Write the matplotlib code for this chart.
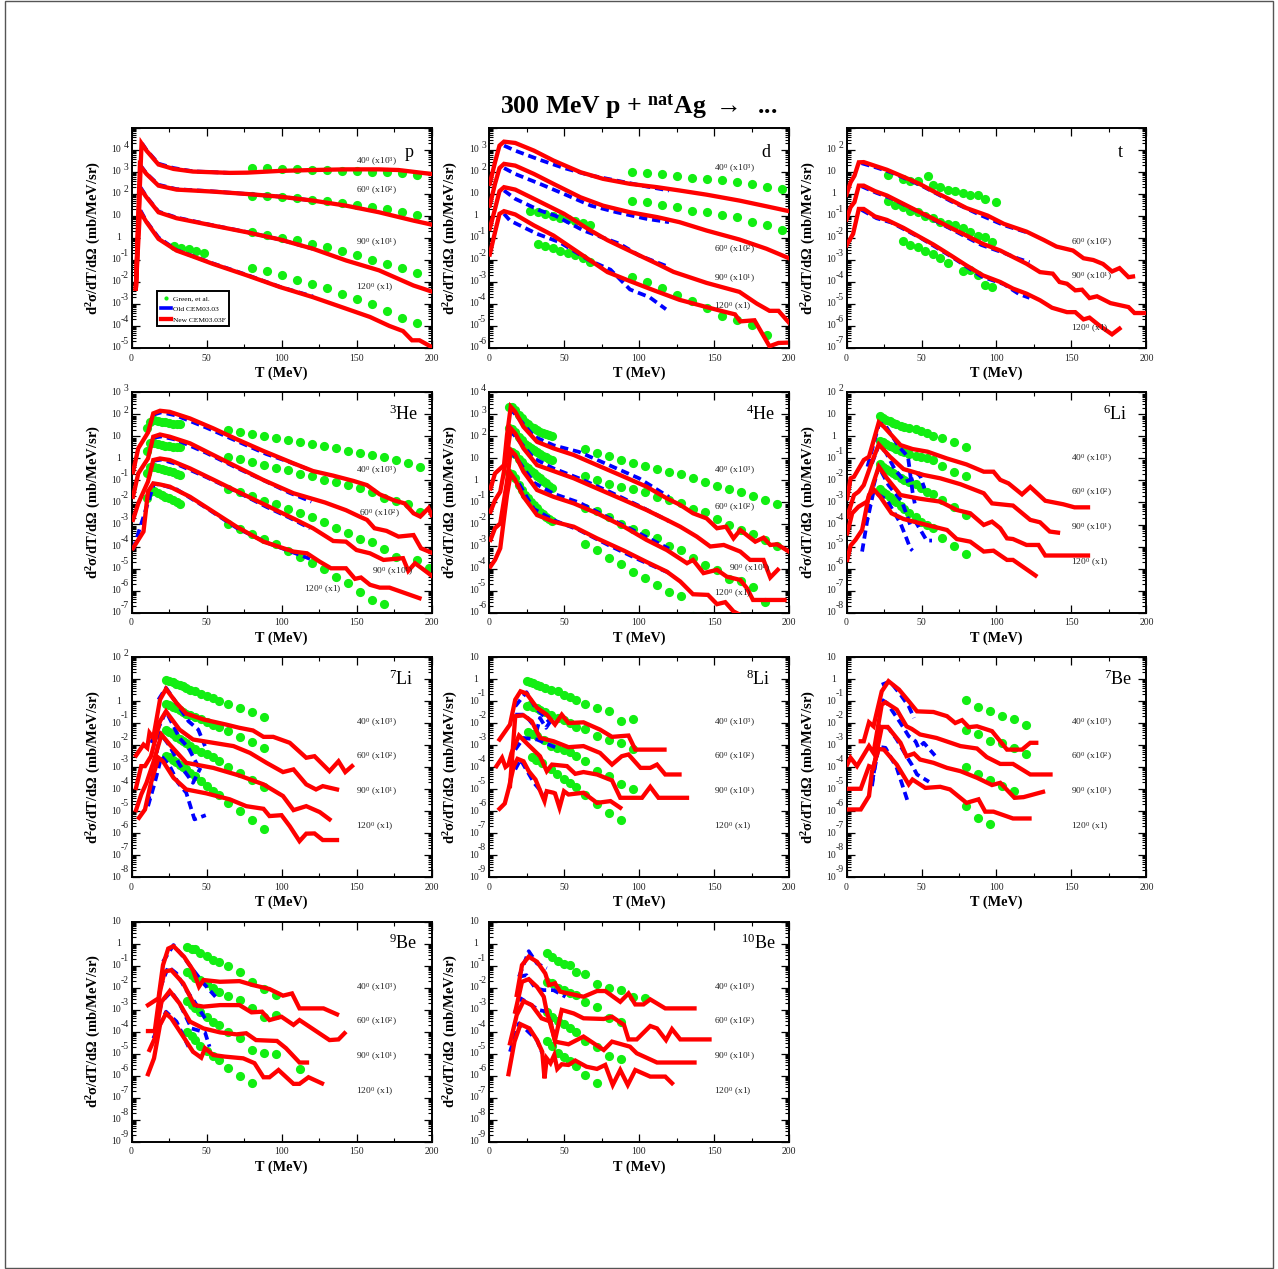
import numpy as np
import matplotlib
matplotlib.use("Agg")
import matplotlib.pyplot as plt
from matplotlib.lines import Line2D
from matplotlib.patches import Rectangle
from matplotlib.ticker import LogLocator, NullFormatter

plt.rcParams['font.family'] = ['Liberation Serif', 'DejaVu Serif']
plt.rcParams['mathtext.fontset'] = 'custom'
plt.rcParams['mathtext.rm'] = 'Liberation Serif'
plt.rcParams['mathtext.it'] = 'Liberation Serif:italic'
plt.rcParams['mathtext.bf'] = 'Liberation Serif:bold'

# all curves: (T in MeV, log10 of the cross section), order 40, 60, 90, 120 deg

# --- p
p_new = [
    ([2.9, 6.7, 10, 18, 28, 41, 65.5, 77, 99, 121, 143, 165, 178, 200],
     [-2.3, 4.3, 3.97, 3.34, 3.14, 3.02, 2.96, 2.97, 3.05, 3.09, 3.12, 3.12, 3.09, 2.91]),
    ([2.9, 5.6, 10, 18, 30, 54, 77, 99, 121, 143, 165, 188, 200],
     [-2.3, 3.29, 2.91, 2.38, 2.2, 2.11, 2.0, 1.88, 1.7, 1.47, 1.17, 0.79, 0.61]),
    ([2.9, 5.6, 10, 18, 30, 54, 77, 99, 121, 143, 165, 188, 200],
     [-2.3, 2.28, 1.85, 1.17, 0.9, 0.57, 0.26, -0.07, -0.49, -1.02, -1.47, -2.16, -2.43]),
    ([2.9, 5.6, 10, 18, 30, 41, 54, 77, 99, 121, 143, 159, 172, 181, 187, 192, 200],
     [-2.3, 1.22, 0.72, -0.04, -0.57, -0.84, -1.17, -1.7, -2.23, -2.69, -3.21, -3.59, -4.0, -4.23, -4.65, -4.65, -4.95]),
]
p_old = [
    ([7, 10, 18, 28, 41, 65], [4.3, 4.0, 3.38, 3.18, 3.03, 2.96]),
    ([6, 10, 18, 30, 54, 77, 99, 121], [3.3, 2.93, 2.42, 2.22, 2.12, 2.0, 1.88, 1.7]),
    ([6, 10, 18, 30, 54, 77, 99, 121], [2.3, 1.88, 1.2, 0.93, 0.58, 0.27, -0.07, -0.49]),
    ([6, 10, 18, 30, 54, 77, 99, 121], [1.25, 0.75, 0.02, -0.55, -1.15, -1.68, -2.22, -2.66]),
]
p_T = [80, 90, 100, 110, 120, 130, 140, 150, 160, 170, 180, 190]
p_data = [
    (p_T, [3.17, 3.17, 3.15, 3.14, 3.11, 3.09, 3.06, 3.06, 3.02, 2.99, 2.94, 2.88]),
    (p_T, [1.93, 1.9, 1.85, 1.81, 1.75, 1.7, 1.61, 1.52, 1.43, 1.31, 1.19, 1.04]),
    (p_T, [0.26, 0.14, 0.02, -0.11, -0.26, -0.42, -0.58, -0.76, -0.98, -1.17, -1.35, -1.57]),
    (p_T, [-1.35, -1.52, -1.69, -1.9, -2.08, -2.29, -2.55, -2.78, -3.02, -3.31, -3.65, -3.87]),
    ([28, 33, 38, 43, 48], [-0.37, -0.45, -0.49, -0.57, -0.67]),
]

# --- d
d_new = [
    ([0.5, 4, 7, 10, 17.5, 30, 43, 61, 76, 94, 112, 127, 145, 167, 185, 200],
     [1.46, 2.44, 3.2, 3.38, 3.32, 2.97, 2.52, 1.99, 1.69, 1.46, 1.31, 1.16, 0.97, 0.7, 0.44, 0.22]),
    ([0.5, 4, 7, 10, 17.5, 30, 43, 61, 76, 94, 112, 127, 145, 167, 185, 200],
     [0.47, 1.46, 2.18, 2.37, 2.29, 1.91, 1.46, 0.85, 0.47, 0.17, -0.05, -0.28, -0.66, -1.07, -1.49, -1.92]),
    ([0.5, 4, 7, 10, 17.5, 30, 50, 67.5, 79, 94, 112, 123, 145, 167, 178.5, 187, 193, 200],
     [-0.58, 0.32, 1.13, 1.31, 1.2, 0.78, 0.1, -0.65, -1.1, -1.59, -2.17, -2.54, -3.04, -3.45, -3.98, -4.31, -4.31, -4.85]),
    ([0.5, 4, 7, 10, 17.5, 30, 43, 56, 67.5, 79, 94, 110, 127, 145, 158, 164, 167.5, 177, 187, 193, 198],
     [-1.75, -0.74, 0.1, 0.22, 0.07, -0.43, -0.89, -1.49, -2.02, -2.55, -2.96, -3.38, -3.81, -4.14, -4.37, -4.47, -4.79, -4.74, -5.92, -5.77, -5.76]),
]
d_old = [
    ([10, 17.5, 34, 50, 68, 85, 105, 120], [3.2, 2.97, 2.55, 2.18, 1.84, 1.61, 1.34, 1.16]),
    ([10, 17.5, 34, 50, 68, 85, 105, 120], [2.18, 1.91, 1.46, 1.0, 0.47, 0.17, -0.13, -0.28]),
    ([10, 17.5, 34, 44, 63, 87, 100, 120], [1.16, 0.78, 0.25, 0.02, -0.66, -1.26, -1.79, -2.32]),
    ([10, 14, 32, 47, 67, 81, 94, 107, 118], [0.1, -0.21, -0.81, -1.19, -2.02, -2.44, -3.34, -3.69, -4.24]),
]
d_T = [95, 105, 115, 125, 135, 145, 155, 165, 175, 185, 195]
d_data = [
    (d_T, [1.99, 1.96, 1.91, 1.81, 1.75, 1.7, 1.63, 1.55, 1.46, 1.34, 1.25]),
    (d_T, [0.7, 0.64, 0.51, 0.4, 0.25, 0.17, 0.05, -0.05, -0.27, -0.42, -0.63]),
    ([27.5, 32.5, 37.5, 42.5, 47.5, 52.5, 57.5, 62.5, 67.5],
     [0.25, 0.17, 0.1, 0.01, -0.07, -0.13, -0.24, -0.3, -0.39]),
    ([32.5, 37.5, 42.5, 47.5, 52.5, 57.5, 62.5, 67.5],
     [-1.26, -1.37, -1.45, -1.57, -1.69, -1.79, -1.91, -2.07]),
    ([95, 105, 115, 125, 135, 145, 155, 165, 175, 185],
     [-2.75, -3.0, -3.26, -3.59, -3.87, -4.17, -4.55, -4.74, -4.97, -5.39]),
]

# --- t (no 40 deg label in this one)
t_new = [
    ([0, 2.7, 5.3, 8.2, 11.5, 19, 27, 38, 49, 58, 69.5, 80, 94, 105, 120, 131.5, 140, 151, 158, 164.5, 171, 177, 182, 188, 191],
     [-0.03, 0.53, 0.83, 1.44, 1.45, 1.28, 1.1, 0.78, 0.45, 0.12, -0.27, -0.64, -0.98, -1.36, -1.71, -2.09, -2.39, -2.57, -2.92, -3.0, -3.18, -3.52, -3.37, -3.78, -3.75]),
    ([0, 2.7, 5.3, 8.2, 11.5, 19, 27, 38, 49, 58, 69.5, 80, 91, 102.5, 120, 129, 137.5, 142, 147, 152.5, 157, 162, 167, 176, 188, 192, 199],
     [-1.16, -0.6, -0.37, 0.38, 0.38, 0.13, -0.07, -0.45, -0.83, -1.13, -1.54, -1.89, -2.27, -2.57, -3.17, -3.55, -3.62, -4.0, -4.08, -4.38, -4.35, -4.73, -4.65, -4.96, -5.14, -5.41, -5.41]),
    ([0, 4.4, 8.2, 11.5, 19, 27, 38, 49, 58, 69.5, 80, 91, 102.5, 111, 120, 129, 137, 147, 152.5, 158, 162, 169, 177, 182],
     [-2.34, -1.81, -0.68, -0.68, -1.02, -1.18, -1.54, -1.96, -2.3, -2.79, -3.25, -3.7, -4.0, -4.3, -4.53, -4.83, -5.17, -5.37, -5.37, -5.7, -5.62, -6.0, -6.38, -6.12]),
]
t_old = [
    ([10, 20, 30, 50, 70, 90, 105, 122], [1.4, 1.2, 0.98, 0.38, -0.34, -0.98, -1.42, -1.78]),
    ([10, 20, 30, 50, 70, 90, 105, 115, 122], [0.35, 0.05, -0.2, -0.88, -1.6, -2.32, -2.68, -2.95, -3.1]),
    ([10, 20, 30, 50, 70, 90, 105, 115, 122], [-0.72, -1.1, -1.3, -2.02, -2.85, -3.75, -4.1, -4.55, -4.72]),
]
t_data = [
    ([27.5, 37.5, 42.5, 47.5, 54, 57.5, 62.5, 67.5, 72.5, 77.5, 82.5, 87.5, 92.5, 99.5],
     [0.88, 0.69, 0.61, 0.58, 0.84, 0.41, 0.34, 0.2, 0.14, 0.03, -0.06, -0.03, -0.24, -0.36]),
    ([27.5, 32.5, 37.5, 42.5, 47.5, 52.5, 57.5, 62.5, 67.5, 72.5, 77.5, 82.5, 87.5, 92.5, 97],
     [-0.34, -0.48, -0.6, -0.75, -0.83, -0.98, -1.08, -1.25, -1.36, -1.43, -1.54, -1.74, -1.89, -1.96, -2.17]),
    ([37.5, 42.5, 47.5, 52.5, 57.5, 62.5, 67.5, 77.5, 82.5, 87.5, 92.5, 97],
     [-2.14, -2.31, -2.43, -2.57, -2.75, -2.9, -3.13, -3.51, -3.46, -3.67, -4.13, -4.22]),
]

# --- 3He
he3_new = [
    ([1, 4.5, 11, 14.5, 19, 25.5, 39, 54.5, 70, 88, 108, 121, 134.5, 148, 157, 165.5, 174.5, 182, 188, 192.5, 198, 200],
     [-0.63, 0.46, 1.18, 2.05, 2.17, 2.12, 1.82, 1.37, 0.88, 0.34, -0.22, -0.57, -0.78, -1.02, -1.21, -1.63, -1.89, -2.04, -2.49, -2.64, -2.26, -2.57]),
    ([1, 4.5, 11, 14.5, 19, 25.5, 39, 54.5, 70, 88, 108, 129, 143, 152, 157, 162, 170, 178, 188, 193, 200],
     [-1.74, -0.68, 0, 0.99, 1.09, 0.99, 0.69, 0.16, -0.37, -0.98, -1.58, -2.0, -2.35, -2.64, -2.79, -3.17, -3.29, -3.55, -3.48, -4.08, -4.28]),
    ([1, 4.5, 11, 14.5, 19, 25.5, 39, 54.5, 70, 88, 108, 121, 134.5, 143, 150, 159, 168, 181, 184.5, 189, 200],
     [-2.79, -2.04, -1.05, -0.07, 0, -0.07, -0.45, -0.96, -1.48, -2.07, -2.73, -3.17, -3.75, -3.78, -4.16, -4.31, -4.61, -4.53, -5.11, -4.76, -5.32]),
    ([1, 4.5, 8, 11, 14.5, 19, 25.5, 39, 54.5, 70, 88, 108, 117, 125.5, 133, 143, 149, 153, 159, 165.5, 172, 192],
     [-4.08, -3.7, -3.32, -1.51, -1.13, -1.18, -1.28, -1.74, -2.42, -3.1, -3.78, -4.23, -4.31, -4.69, -4.99, -4.99, -5.47, -5.41, -5.74, -5.87, -5.87, -6.35]),
]
he3_old = [
    ([15, 20, 30, 50, 70, 90, 105, 120], [2.0, 2.1, 1.95, 1.4, 0.8, 0.2, -0.15, -0.55]),
    ([15, 20, 30, 50, 70, 90, 105, 120], [0.95, 1.0, 0.85, 0.25, -0.42, -1.05, -1.55, -1.96]),
    ([15, 20, 30, 50, 70, 90, 105, 119], [-0.1, -0.05, -0.25, -0.85, -1.5, -2.2, -2.68, -3.17]),
    ([1, 15, 20, 30, 50, 70, 90, 105, 119], [-4.15, -1.15, -1.2, -1.4, -2.25, -3.15, -3.82, -4.2, -4.56]),
]
he3_lowT = [10, 12.5, 15, 17.5, 20, 22.5, 25, 27.5, 30, 32.5]
he3_T = [64, 72, 80, 88, 96, 104, 112, 120, 128, 136, 144, 152, 160, 168, 176, 184, 192]
he3_data = [
    (he3_lowT, [1.37, 1.67, 1.74, 1.71, 1.67, 1.64, 1.62, 1.59, 1.58, 1.56]),
    (he3_lowT, [0.34, 0.69, 0.69, 0.64, 0.61, 0.58, 0.56, 0.53, 0.52, 0.5]),
    (he3_lowT, [-0.65, -0.37, -0.37, -0.42, -0.48, -0.52, -0.57, -0.63, -0.69, -0.75]),
    (he3_lowT, [-1.81, -1.51, -1.48, -1.58, -1.66, -1.74, -1.81, -1.89, -1.96, -2.05]),
    (he3_T, [1.29, 1.21, 1.11, 1.03, 0.91, 0.84, 0.73, 0.64, 0.55, 0.46, 0.35, 0.25, 0.17, 0.05, -0.07, -0.22, -0.39]),
    (he3_T, [0.08, -0.04, -0.16, -0.3, -0.42, -0.54, -0.69, -0.81, -0.96, -1.05, -1.21, -1.36, -1.54, -1.78, -1.93, -2.08, -2.42]),
    ([64, 72, 80, 88, 96, 104, 112, 120, 128, 136, 144, 152, 160, 168, 176, 190, 198],
     [-1.39, -1.54, -1.69, -1.92, -2.08, -2.3, -2.46, -2.64, -2.87, -3.14, -3.4, -3.66, -3.81, -4.11, -4.46, -4.61, -4.96]),
    ([64, 72, 80, 88, 96, 104, 112, 120, 128, 136, 144, 152, 160, 168],
     [-2.98, -3.2, -3.43, -3.66, -3.9, -4.19, -4.46, -4.76, -5.03, -5.37, -5.67, -6.08, -6.43, -6.61]),
]

# --- 4He
he4_new = [
    ([1, 4, 10, 12, 14.5, 17.5, 23, 32, 43, 56.5, 72, 90, 105, 118.5, 127.5, 136, 145, 152, 158, 163, 167.5, 177.5, 183, 187.5, 192, 200],
     [-0.36, 0.32, 0.7, 2.06, 3.35, 3.12, 2.44, 1.76, 1.46, 1.16, 0.7, 0.17, -0.28, -0.81, -1.11, -1.49, -1.72, -2.17, -2.1, -2.63, -2.25, -2.78, -2.6, -2.93, -2.9, -3.23]),
    ([1, 4, 7.5, 12, 14.5, 17.5, 23, 32, 43, 56.5, 72, 90, 105, 118.5, 127.5, 138.5, 147.5, 156.5, 167.5, 174, 183, 187.5, 192.5],
     [-1.42, -0.89, -0.51, 1.16, 2.37, 2.14, 1.46, 0.7, 0.43, 0.1, -0.36, -0.89, -1.34, -1.79, -2.1, -2.55, -3.0, -2.93, -3.23, -3.61, -3.61, -4.41, -4.06]),
    ([1, 4, 7.5, 12, 14.5, 17.5, 23, 32, 43, 56.5, 72, 90, 105, 118.5, 132, 136, 143, 152, 158.5, 167.5, 172, 176, 197],
     [-2.7, -2.17, -1.95, -0.05, 1.38, 1.16, 0.4, -0.43, -0.74, -1.04, -1.49, -2.1, -2.7, -3.16, -3.76, -3.61, -4.21, -4.06, -4.37, -4.52, -4.9, -5.43, -5.43]),
    ([1, 4, 7.5, 10, 12, 14.5, 17.5, 23, 32, 43, 56.5, 72, 90, 105, 118.5, 127.5, 136, 146, 152, 157.5, 163, 170],
     [-3.91, -3.61, -3.08, -1.72, -0.66, 0.32, 0.02, -0.74, -1.57, -1.87, -2.1, -2.63, -3.19, -3.7, -4.14, -4.59, -5.17, -5.2, -5.62, -5.53, -5.95, -6.2]),
]
he4_old = [
    ([14, 20, 30, 43, 60, 80, 100, 120], [3.3, 2.8, 2.0, 1.6, 1.3, 0.7, 0.1, -0.75]),
    ([14, 20, 30, 43, 60, 80, 100, 120], [2.3, 1.8, 1.0, 0.55, 0.1, -0.5, -1.15, -1.85]),
    ([14, 20, 30, 43, 60, 80, 100, 120], [1.35, 0.85, -0.1, -0.6, -1.0, -1.7, -2.4, -3.1]),
    ([14, 20, 30, 43, 60, 80, 100, 120], [0.3, -0.15, -1.3, -1.8, -2.25, -2.95, -3.6, -4.2]),
]
he4_lowT = [13, 15, 17, 20, 22, 24, 26, 28, 30, 32, 34, 36, 38, 40, 42]
he4_T = [64, 72, 80, 88, 96, 104, 112, 120, 128, 136, 144, 152, 160, 168, 176, 184, 192]
he4_data = [
    (he4_lowT, [3.35, 3.32, 3.2, 2.97, 2.82, 2.67, 2.55, 2.44, 2.37, 2.29, 2.21, 2.17, 2.11, 2.06, 2.03]),
    (he4_lowT, [2.37, 2.32, 2.21, 1.99, 1.84, 1.68, 1.56, 1.46, 1.38, 1.28, 1.19, 1.13, 1.05, 0.97, 0.91]),
    (he4_lowT, [1.35, 1.31, 1.19, 0.97, 0.82, 0.67, 0.55, 0.44, 0.34, 0.22, 0.1, -0.01, -0.13, -0.24, -0.36]),
    (he4_lowT, [0.32, 0.28, 0.1, -0.21, -0.43, -0.66, -0.81, -0.96, -1.11, -1.26, -1.42, -1.54, -1.64, -1.75, -1.84]),
    (he4_T, [1.43, 1.26, 1.13, 0.93, 0.81, 0.66, 0.51, 0.37, 0.28, 0.13, -0.08, -0.24, -0.39, -0.52, -0.69, -0.87, -1.07]),
    (he4_T, [0.22, 0.02, -0.16, -0.28, -0.39, -0.51, -0.73, -0.89, -1.04, -1.3, -1.45, -1.76, -2.02, -2.25, -2.45, -2.7, -2.96]),
    (he4_T[:16], [-1.23, -1.39, -1.64, -1.99, -2.2, -2.4, -2.63, -3.0, -3.16, -3.53, -3.84, -4.06, -4.47, -4.59, -4.82, -5.53]),
    (he4_T[:11], [-2.88, -3.16, -3.5, -3.79, -4.14, -4.41, -4.74, -5.09, -5.27, -6.15, -6.15]),
]

# --- 6Li
li6_new = [
    ([0.5, 2.7, 5, 11.5, 15, 21.5, 25, 36, 44, 54, 67, 80, 91.5, 98, 102.5, 108, 117, 122.5, 132.5, 144.5, 152, 161],
     [-2.81, -1.9, -1.83, -1.07, -0.92, 0.64, 0.44, -0.39, -0.57, -0.69, -1.0, -1.27, -1.6, -1.6, -1.97, -2.13, -2.63, -2.29, -2.92, -3.08, -3.22, -3.22]),
    ([0.5, 5, 8, 11.5, 17, 21.5, 29, 38, 51.5, 62.5, 76, 91.5, 97, 111, 122.5, 129, 135.5, 141],
     [-3.64, -2.66, -2.51, -2.21, -1.15, -0.36, -0.92, -1.48, -1.75, -1.9, -2.17, -2.58, -3.04, -3.14, -3.79, -3.9, -4.32, -4.37]),
    ([0.5, 3.8, 8, 13.7, 16, 21.5, 27, 36, 49, 62.5, 73.5, 82.5, 91.5, 97, 102.5, 107, 111, 120, 128, 132.5, 161],
     [-4.4, -3.49, -3.19, -2.96, -2.51, -1.37, -1.9, -2.66, -2.83, -2.96, -3.34, -3.49, -4.02, -3.87, -4.17, -4.63, -4.66, -4.93, -4.93, -5.41, -5.41]),
    ([0.5, 2.7, 6, 10.4, 15, 18.5, 22.5, 30, 38, 53.5, 67, 73.5, 82.5, 91.5, 98, 107, 111, 126],
     [-5.61, -4.96, -4.7, -4.25, -2.66, -2.43, -2.74, -3.49, -3.75, -4.02, -4.25, -4.66, -4.78, -5.23, -5.19, -5.61, -5.61, -6.32]),
]
li6_old = [
    ([14, 21.5, 25, 35, 41, 44, 45.5], [-1.37, 0.52, 0.6, -0.47, -0.92, -2.51, -3.04]),
    ([17, 21.5, 26, 32.5, 39, 46, 48.5, 52], [-1.22, -0.39, -0.69, -1.53, -2.05, -1.9, -1.68, -2.36]),
    ([12.6, 17, 21.5, 28, 37, 42.5, 46, 53.5, 57], [-4.02, -2.51, -1.37, -2.21, -2.96, -4.02, -3.87, -4.73, -4.73]),
    ([10.4, 13.7, 18, 27, 31.5, 36, 40, 42.5, 44], [-5.23, -3.87, -2.51, -2.89, -3.42, -3.95, -4.63, -5.08, -5.19]),
]
li6_T = [22, 24, 26.5, 29, 31, 33, 36, 38.5, 41.5, 46, 49.5, 53.5, 57.5, 63.5, 71.5, 79.5]
li6_data = [
    (li6_T, [0.91, 0.85, 0.77, 0.7, 0.62, 0.55, 0.49, 0.44, 0.4, 0.34, 0.25, 0.14, 0.03, -0.06, -0.27, -0.47]),
    (li6_T, [-0.19, -0.27, -0.35, -0.42, -0.5, -0.57, -0.65, -0.72, -0.8, -0.87, -0.93, -1.0, -1.07, -1.34, -1.6, -1.78]),
    (li6_T, [-1.27, -1.37, -1.48, -1.57, -1.65, -1.75, -1.87, -1.98, -2.08, -2.18, -2.36, -2.51, -2.63, -2.89, -3.19, -3.57]),
    (li6_T, [-2.39, -2.51, -2.63, -2.77, -2.89, -2.99, -3.14, -3.3, -3.49, -3.67, -3.87, -4.02, -4.17, -4.6, -4.99, -5.34]),
]

# --- 7Li
li7_new = [
    ([3, 8, 10.5, 12, 14.5, 19, 23, 30, 36.5, 48, 63, 72, 81, 88, 94.5, 105.5, 116.5, 122, 132, 138, 142.5, 147],
     [-2.48, -1.98, -2.13, -1.45, -1.68, 0.06, 0.55, -0.09, -0.57, -0.84, -1.07, -1.22, -1.34, -1.63, -1.63, -1.9, -2.58, -2.51, -3.19, -2.74, -3.23, -2.96]),
    ([3, 6.5, 9, 13, 19, 23, 32, 41, 54.5, 68, 79, 90, 101, 108, 116.5, 123, 127.5, 137],
     [-3.95, -2.96, -2.96, -2.51, -0.92, -0.47, -1.3, -1.75, -1.9, -2.05, -2.36, -2.81, -3.23, -3.11, -3.79, -4.02, -3.87, -4.02]),
    ([3, 6.5, 10, 14.5, 20, 25.5, 36.5, 54.5, 72, 88, 101, 108, 116.5, 125.5, 132],
     [-4.96, -4.25, -3.72, -2.81, -1.53, -1.98, -2.81, -3.04, -3.39, -3.79, -4.32, -4.96, -4.78, -5.05, -5.38]),
    ([5, 9, 13, 18, 21, 28, 36.5, 50, 65.5, 76.5, 88, 92, 100, 105.5, 112, 116.5, 122, 127.5, 137],
     [-5.31, -4.93, -3.72, -2.58, -2.74, -3.49, -4.02, -4.2, -4.47, -4.78, -4.9, -5.23, -5.19, -5.69, -6.37, -6.03, -6.02, -6.32, -6.32]),
]
li7_old = [
    ([18, 23, 30, 38, 44.5, 49], [0.06, 0.6, -0.09, -0.92, -1.3, -2.05]),
    ([13, 19, 23, 32, 38, 42, 45.5], [-1.9, -1.07, -0.47, -1.68, -2.13, -2.66, -3.11]),
    ([11, 19, 25.5, 32, 41, 46], [-4.7, -1.45, -2.05, -2.89, -3.72, -3.04]),
    ([11, 15.5, 20, 25.5, 31, 36.5, 42, 49.5], [-4.78, -3.72, -2.51, -2.96, -3.72, -4.17, -5.38, -5.19]),
]
li7_T = [23, 25, 27.5, 29.5, 32, 34, 36, 39, 42, 46, 50, 54, 58, 64, 72, 80, 88]
li7_data = [
    (li7_T, [0.94, 0.9, 0.85, 0.79, 0.73, 0.67, 0.59, 0.52, 0.44, 0.34, 0.25, 0.14, -0.01, -0.13, -0.34, -0.51, -0.74]),
    (li7_T, [-0.12, -0.19, -0.27, -0.34, -0.42, -0.5, -0.57, -0.65, -0.74, -0.84, -0.95, -1.07, -1.18, -1.37, -1.63, -1.86, -2.13]),
    (li7_T, [-1.34, -1.42, -1.52, -1.63, -1.72, -1.83, -1.93, -2.05, -2.17, -2.31, -2.43, -2.55, -2.73, -2.99, -3.26, -3.57, -3.92]),
    (li7_T, [-2.48, -2.55, -2.66, -2.77, -2.89, -2.99, -3.11, -3.26, -3.42, -3.64, -3.87, -4.1, -4.29, -4.63, -5.0, -5.43, -5.84]),
]

# --- 8Li
li8_new = [
    ([7, 14, 17.5, 21, 25, 32, 38.5, 44, 48.5, 53, 63, 74, 82, 93, 97.5, 117],
     [-2.75, -2.07, -0.94, -0.56, -0.66, -1.31, -1.62, -2.07, -1.62, -2.0, -1.97, -2.3, -2.63, -2.57, -3.21, -3.21]),
    ([14, 17.5, 23, 28.5, 34, 43, 53, 63, 74, 82, 88.5, 93, 101, 107.5, 112, 117.5, 127],
     [-4.87, -1.69, -1.65, -1.92, -2.68, -2.83, -3.1, -3.05, -3.36, -3.89, -3.51, -3.43, -4.04, -4.04, -3.89, -4.34, -4.34]),
    ([5, 8.7, 11, 13, 15, 20, 26, 34, 38.5, 42, 52, 57.5, 63, 72, 82, 87.5, 102, 107.5, 113, 132],
     [-3.96, -3.58, -4.0, -3.89, -3.36, -2.57, -2.98, -3.51, -4.19, -3.89, -3.96, -4.31, -4.23, -4.34, -4.61, -5.4, -5.4, -4.9, -5.4, -5.4]),
    ([7, 10.5, 13, 16.5, 19, 23, 26.5, 31, 37, 38.5, 43, 44, 47, 50, 53, 63, 72, 81, 87.5],
     [-5.9, -5.66, -5.02, -3.96, -3.63, -3.74, -4.19, -4.57, -5.55, -5.1, -5.17, -5.2, -5.85, -5.1, -5.25, -5.17, -5.63, -5.55, -5.85]),
]
li8_old = [
    ([17.5, 25, 31, 36.5, 41], [-1.24, -0.6, -1.31, -1.69, -2.0]),
    ([17.5, 24, 32, 34, 38, 41], [-1.62, -1.62, -2.3, -1.77, -2.22, -1.92]),
    ([17.5, 23, 32, 45], [-3.21, -2.68, -2.75, -3.13]),
    ([17.5, 21, 25.5, 30, 35.5, 38.5], [-4.11, -3.66, -4.19, -4.72, -5.17, -5.25]),
]
li8_T = [25, 27, 29, 32, 34, 37, 41, 46, 50, 54, 58, 64, 72, 80, 88, 96]
li8_data = [
    (li8_T, [-0.1, -0.13, -0.18, -0.26, -0.33, -0.41, -0.48, -0.56, -0.71, -0.83, -0.94, -1.12, -1.31, -1.44, -1.89, -1.81]),
    (li8_T, [-1.24, -1.19, -1.27, -1.34, -1.42, -1.5, -1.62, -1.77, -1.87, -2.0, -2.18, -2.27, -2.57, -2.78, -2.9, -3.16]),
    ([26, 28.5, 32, 36.5, 41, 45, 50, 54, 58, 64, 72, 80, 88, 96],
     [-2.42, -2.48, -2.6, -2.78, -3.05, -3.13, -3.21, -3.33, -3.48, -3.74, -4.16, -4.42, -4.79, -4.99]),
    ([28.5, 31.5, 35.5, 41, 45, 50, 54, 58, 64, 72, 80, 88],
     [-3.54, -3.66, -3.84, -4.11, -4.3, -4.54, -4.72, -4.9, -5.25, -5.7, -6.08, -6.41]),
]

# --- 7Be
be7_new = [
    ([9.5, 11.5, 15, 18, 23.5, 28, 35, 41.5, 47, 58, 67, 72.5, 77, 81.5, 87, 97, 107, 117, 122.5, 126.5],
     [-2.83, -2.83, -1.97, -2.15, -0.56, -0.1, -0.48, -1.01, -1.47, -1.5, -1.69, -2.0, -1.87, -2.19, -2.15, -2.37, -3.21, -3.21, -2.9, -2.9]),
    ([0.5, 2.7, 7, 15, 18, 23.5, 26, 33.5, 40, 43.5, 49, 60, 76, 87, 93.5, 102.5, 111, 122.5, 136],
     [-3.89, -3.58, -3.96, -3.05, -3.36, -1.16, -1.06, -1.39, -2.15, -2.27, -2.52, -2.68, -3.05, -3.16, -3.55, -3.86, -3.86, -4.34, -4.34]),
    ([0.5, 9.5, 15, 18, 23.5, 27.5, 36, 40, 45, 49, 58, 67, 76, 87, 97, 102.5, 112, 118, 131],
     [-4.99, -4.99, -3.96, -4.04, -2.18, -2.18, -2.9, -3.51, -3.39, -3.66, -3.81, -4.04, -4.19, -4.49, -4.82, -4.72, -5.4, -5.37, -5.13]),
    ([0.5, 9.5, 15, 17, 21.5, 25, 33.5, 41.5, 44, 52.5, 62.5, 69, 80, 88, 92.5, 98, 111, 122],
     [-5.93, -5.93, -5.32, -4.19, -3.18, -3.21, -3.89, -4.79, -4.57, -4.95, -4.9, -5.02, -5.63, -5.47, -6.03, -6.03, -6.34, -6.34]),
]
be7_old = [
    ([23.5, 29, 36, 41.5, 45], [-0.26, -0.11, -0.71, -1.24, -1.77]),
    ([23.5, 27, 36, 41.5, 46, 48, 51.5, 59], [-0.94, -1.09, -2.0, -2.6, -2.83, -3.13, -2.9, -3.48]),
    ([17, 22.5, 28, 33.5, 40, 43.5, 47, 55], [-4.87, -2.15, -2.22, -2.75, -3.51, -3.89, -4.34, -4.67]),
    ([17, 21.5, 26, 33.5, 40.5], [-4.72, -3.08, -3.13, -4.04, -5.5]),
]
be7_T = [80, 88, 96, 104, 112, 120]
be7_data = [
    (be7_T, [-0.97, -1.27, -1.47, -1.66, -1.81, -2.09]),
    (be7_T, [-2.3, -2.49, -2.81, -2.9, -3.13, -3.43]),
    (be7_T[:5], [-3.99, -4.3, -4.6, -4.87, -5.08]),
    (be7_T[:3], [-5.79, -6.31, -6.61]),
]

# --- 9Be
be9_new = [
    ([11, 18, 21, 24.5, 28, 35, 41, 45, 48, 59, 72, 81, 92, 101, 107, 112, 128, 137],
     [-2.8, -2.49, -0.98, -0.23, -0.12, -0.6, -1.21, -1.96, -1.66, -1.74, -1.71, -1.89, -2.07, -2.37, -2.27, -2.95, -2.95, -3.22]),
    ([11, 15.5, 19, 22, 26.5, 34.5, 42, 48, 59, 72, 80, 87, 92, 100, 108, 112, 132, 138, 142],
     [-3.98, -3.98, -2.19, -1.28, -1.21, -1.81, -2.8, -2.87, -2.8, -2.8, -3.13, -3.1, -3.48, -3.33, -3.7, -3.48, -4.39, -4.36, -4.08]),
    ([12, 15.5, 20, 25.5, 32, 39, 48, 59, 70, 76.5, 83, 97, 103, 112, 117],
     [-4.84, -4.31, -2.65, -2.16, -2.72, -3.55, -3.86, -4.04, -4.13, -4.08, -4.39, -4.43, -4.76, -5.41, -5.41]),
    ([11, 15, 19, 23, 26.5, 34.5, 41, 46.5, 49, 54.5, 62, 74.5, 82, 88, 92, 98, 108, 112, 118, 127],
     [-5.94, -5.22, -3.7, -3.18, -3.4, -4.23, -4.92, -5.19, -4.76, -5.07, -5.14, -5.22, -5.44, -6.08, -6.08, -5.75, -6.38, -6.38, -6.08, -6.36]),
]
be9_old = [
    ([21, 28, 34.5, 42, 48, 56], [-0.83, -0.07, -0.6, -1.28, -1.81, -2.42]),
    ([19, 24.5, 30, 36.5, 42, 49], [-2.04, -1.06, -1.36, -2.12, -2.65, -3.4]),
    ([15.5, 20, 26.5, 32, 40, 49, 52], [-4.23, -2.65, -2.19, -2.72, -3.86, -4.04, -4.69]),
    ([14.5, 19, 23, 30, 38], [-4.31, -3.7, -3.1, -3.55, -4.69]),
]
be9_T = [37, 40, 42, 45.5, 50, 54, 58, 64, 72, 80, 88, 96, 112]
be9_data = [
    (be9_T[:12], [-0.15, -0.23, -0.27, -0.41, -0.57, -0.75, -0.86, -1.01, -1.31, -1.74, -2.07, -2.34]),
    (be9_T[:12], [-1.31, -1.41, -1.59, -1.66, -1.78, -2.01, -2.22, -2.39, -2.57, -2.92, -3.33, -3.25]),
    (be9_T, [-2.62, -2.8, -2.92, -3.13, -3.33, -3.55, -3.7, -4.01, -4.31, -4.84, -4.96, -5.01, -5.72]),
    (be9_T[:10], [-4.04, -4.19, -4.39, -4.64, -4.88, -5.1, -5.29, -5.64, -6.0, -6.35]),
]

# --- 10Be
be10_new = [
    ([18.5, 22, 26.5, 32, 37.5, 40, 44, 47.5, 63, 72, 77.5, 87.5, 93, 97.5, 103, 107.5, 117.5, 137],
     [-2.34, -0.98, -0.6, -0.83, -1.36, -1.89, -1.81, -2.19, -2.42, -2.16, -2.16, -2.65, -2.27, -2.77, -2.77, -2.54, -2.95, -2.95]),
    ([17.5, 22, 26.5, 32, 36.5, 38.5, 44, 48.5, 56.5, 63, 76.5, 82, 90, 93, 98.5, 107.5, 112, 118, 122, 127.5, 147],
     [-3.1, -1.74, -1.62, -1.97, -2.42, -3.1, -4.39, -3.02, -3.18, -3.4, -3.43, -3.33, -3.7, -4.36, -4.36, -3.75, -3.86, -4.39, -3.89, -4.36, -4.36]),
    ([14, 18.5, 23, 28.5, 35, 41, 44, 53, 63, 76.5, 82, 94, 98.5, 112, 137],
     [-4.54, -3.25, -2.62, -2.8, -3.4, -3.55, -4.46, -4.58, -4.23, -4.84, -4.46, -4.69, -4.99, -5.41, -5.41]),
    ([13, 17, 21, 27, 32, 35.5, 37, 38.5, 41, 43.5, 45.5, 48.5, 53, 57.5, 65, 72, 77.5, 82.5, 87.5, 92.5, 97.5, 107.5, 117.5, 122],
     [-5.94, -4.46, -3.67, -3.86, -4.39, -4.92, -6.13, -5.22, -5.44, -5.07, -5.7, -5.49, -5.52, -5.32, -5.6, -5.7, -5.52, -6.43, -5.75, -6.43, -5.75, -6.05, -6.05, -6.35]),
]
be10_old = [
    ([20, 26.5, 32, 38.5], [-1.51, -0.35, -0.91, -1.13]),
    ([20, 25, 31, 36.5, 43, 51], [-1.51, -1.44, -2.04, -2.12, -2.12, -2.42]),
    ([17, 21, 26.5, 33, 38.5, 44], [-3.18, -2.49, -2.72, -3.02, -3.1, -4.16]),
    ([14, 20, 25, 32, 35.5], [-4.92, -3.63, -3.93, -4.39, -4.99]),
]
be10_T = [38.5, 42, 46, 50, 54, 58, 64, 72, 80, 88, 96, 104]
be10_data = [
    (be10_T, [-0.42, -0.63, -0.79, -0.91, -0.98, -1.31, -1.38, -1.86, -2.04, -2.12, -2.42, -2.49]),
    (be10_T[:10], [-1.74, -1.81, -2.0, -2.12, -2.27, -2.34, -2.68, -2.9, -3.4, -3.58]),
    (be10_T[:10], [-3.1, -3.33, -3.52, -3.67, -3.83, -4.01, -4.42, -4.72, -5.1, -5.25]),
    (be10_T[:8], [-4.42, -4.66, -4.96, -5.14, -5.34, -5.55, -5.97, -6.35]),
]

angles = [40, 60, 90, 120]
scales = ['x10$^{3}$', 'x10$^{2}$', 'x10$^{1}$', 'x1']

# name, name right edge, log y range, data, label spots (axes fractions)
std_spots = [(.749, .70), (.749, .545), (.749, .386), (.749, .227)]
panels = [
    ('p', .94, -5, 5, p_new, p_old, p_data, [(.75, .845), (.75, .713), (.75, .48), (.75, .273)]),
    ('d', .938, -6, 4, d_new, d_old, d_data, [(.749, .815), (.749, .447), (.749, .315), (.749, .186)]),
    ('t', .922, -7, 3, t_new, t_old, t_data, [None, (.749, .48), (.749, .323), (.749, .09)]),
    ('$^{3}$He', .955, -7, 3, he3_new, he3_old, he3_data, [(.75, .645), (.759, .447), (.80, .186), (.574, .103)]),
    ('$^{4}$He', .955, -6, 4, he4_new, he4_old, he4_data, [(.749, .644), (.749, .477), (.799, .198), (.75, .085)]),
    ('$^{6}$Li', .935, -8, 2, li6_new, li6_old, li6_data, std_spots),
    ('$^{7}$Li', .94, -8, 2, li7_new, li7_old, li7_data, std_spots),
    ('$^{8}$Li', .938, -9, 1, li8_new, li8_old, li8_data, std_spots),
    ('$^{7}$Be', .952, -9, 1, be7_new, be7_old, be7_data, std_spots),
    ('$^{9}$Be', .952, -9, 1, be9_new, be9_old, be9_data, std_spots),
    ('$^{10}$Be', .955, -9, 1, be10_new, be10_old, be10_data, std_spots),
]

W, H = 1278, 1269
lefts = [131.5, 489, 846.5]
tops = [128, 392.5, 657, 921.5]
pw, ph = 300, 220

GREEN = '#12ee12'
TICK_FS = 7.0


def put_ylabels(ax, exps, skip_top):
    # 10 and its exponent are apart and the minus ones sit higher, so two texts
    for e in exps:
        if skip_top and e == exps[-1]:
            continue
        base = '1' if e == 0 else '10'
        ax.annotate(base, xy=(0, 10.0 ** e), xycoords=('axes fraction', 'data'), xytext=(-10.5, 0),
                    textcoords='offset pixels', ha='right', va='center', fontsize=TICK_FS,
                    color='#222222', annotation_clip=False)
        if e in (0, 1):
            continue
        ax.annotate(str(e), xy=(0, 10.0 ** e), xycoords=('axes fraction', 'data'),
                    xytext=(-2.8, 7 if e < 0 else 4), textcoords='offset pixels', ha='right', va='center',
                    fontsize=TICK_FS, color='#222222', annotation_clip=False)


fig = plt.figure(figsize=(W / 100, H / 100), dpi=100)
fig.patches.append(Rectangle((4.5 / W, 0.7 / H), 1268.5 / W, 1267.6 / H, transform=fig.transFigure,
                             fill=False, ec='#555555', lw=1.0))

for i, (name, name_x, lo, hi, new, old, data, spots) in enumerate(panels):
    row, col = divmod(i, 3)
    ax = fig.add_axes([lefts[col] / W, 1 - (tops[row] + ph) / H, pw / W, ph / H])
    for T, lg in data:
        ax.plot(T, 10.0 ** np.array(lg), 'o', color=GREEN, ms=6.6, mew=0, zorder=2)
    for T, lg in old:
        ax.plot(T, 10.0 ** np.array(lg), color='#0000ff', lw=2.7, dashes=(2.2, 1.3), zorder=3)
    for T, lg in new:
        ax.plot(T, 10.0 ** np.array(lg), color='#ff0000', lw=3.1, solid_joinstyle='miter', zorder=4)

    ax.set_yscale('log')
    ax.set_xlim(0, 200)
    ax.set_ylim(10.0 ** lo, 10.0 ** hi)
    ax.set_xticks([0, 50, 100, 150, 200])
    ax.set_xticks([25, 75, 125, 175], minor=True)
    exps = list(range(lo, hi + 1))
    ax.set_yticks([10.0 ** e for e in exps])
    ax.set_yticklabels([])
    put_ylabels(ax, exps, row == 0)
    ax.yaxis.set_minor_locator(LogLocator(base=10, subs=range(2, 10), numticks=20))
    ax.yaxis.set_minor_formatter(NullFormatter())
    ax.tick_params(which='major', direction='in', top=True, right=True, length=6, width=0.9,
                   labelsize=TICK_FS, pad=4, labelcolor='#222222')
    ax.tick_params(which='minor', direction='in', top=True, right=True, length=3, width=0.8)
    for s in ax.spines.values():
        s.set_linewidth(1.4)

    ax.set_xlabel('T (MeV)', fontsize=10.3, fontweight='bold', labelpad=3)
    fig.text((lefts[col] - 38) / W, 1 - (tops[row] + 110) / H,
             'd$^{\\mathbf{2}}$\u03c3/dT/d\u03a9 (mb/MeV/sr)', rotation=90,
             fontsize=10.5, fontweight='bold', ha='center', va='center')
    ax.text(name_x, .90 if row else .89, name, transform=ax.transAxes, fontsize=13, ha='right', va='center', zorder=6)

    for a, sc, spot in zip(angles, scales, spots):
        if spot is None:
            continue
        ax.text(spot[0], spot[1], f'{a}$^{{0}}$ ({sc})', transform=ax.transAxes,
                fontsize=6.8, color='#222222', ha='left', va='center', zorder=6)

    if i == 0:
        handles = [
            Line2D([], [], ls='', marker='o', color=GREEN, ms=3, mew=0),
            Line2D([], [], color='#0000ff', lw=2.6),
            Line2D([], [], color='#ff0000', lw=3.1),
        ]
        leg = ax.legend(handles, ['Green, et al.', 'Old CEM03.03', 'New CEM03.03F'],
                        loc='lower left', bbox_to_anchor=(.0856, .098), borderaxespad=0,
                        fontsize=5.4, frameon=True, fancybox=False, edgecolor='black', framealpha=1,
                        handlelength=1.4, handletextpad=0.2, labelspacing=0.6, borderpad=0.5)
        leg.get_frame().set_linewidth(1.4)
        leg.set_zorder(8)

fig.text(639 / W, 1 - 107 / H, '300 MeV p + $^{\\mathbf{nat}}$Ag $\\rightarrow$  ...',
         fontsize=18.5, fontweight='bold', ha='center', va='center')

fig.savefig('out.png', dpi=100)
